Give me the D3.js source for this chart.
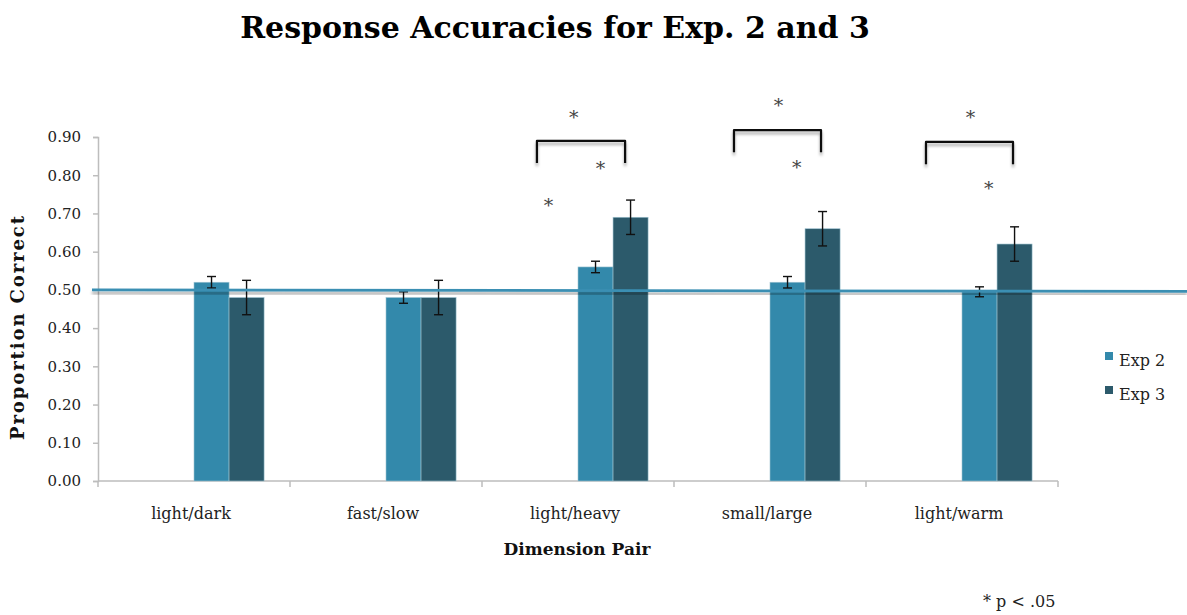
<!DOCTYPE html>
<html>
<head>
<meta charset="utf-8">
<script src="https://cdn.jsdelivr.net/npm/d3@7"></script>
<style>
  body { margin: 0; background: #fff; }
  text { font-family: "DejaVu Serif", Georgia, serif; fill: #222; }
</style>
</head>
<body>
<script>
// data
var categories = ["light/dark", "fast/slow", "light/heavy", "small/large", "light/warm"];
var seriesNames = ["Exp 2", "Exp 3"];
var exp2 = [0.52, 0.48, 0.56, 0.52, 0.495];
var exp3 = [0.48, 0.48, 0.69, 0.66, 0.62];
var exp2Err = [0.015, 0.015, 0.015, 0.015, 0.013];
var exp3Err = [0.045, 0.045, 0.045, 0.045, 0.045];
var yTicks = [0, 0.1, 0.2, 0.3, 0.4, 0.5, 0.6, 0.7, 0.8, 0.9];
var chance = 0.5;

// significance marks: category, horizontal position inside the band (0..1), value
var brackets = [
    {cat: "light/heavy", from: 0.207, to: 0.836, top: 0.89},
    {cat: "small/large", from: 0.243, to: 0.864, top: 0.918},
    {cat: "light/warm", from: 0.243, to: 0.864, top: 0.887}
];
var stars = [
    {cat: "light/heavy", pos: 0.47, v: 0.963},
    {cat: "light/heavy", pos: 0.66, v: 0.829},
    {cat: "light/heavy", pos: 0.29, v: 0.733},
    {cat: "small/large", pos: 0.56, v: 0.994},
    {cat: "small/large", pos: 0.69, v: 0.832},
    {cat: "light/warm", pos: 0.56, v: 0.963},
    {cat: "light/warm", pos: 0.69, v: 0.777}
];

var colors = {"Exp 2": "#3389ab", "Exp 3": "#2c5a6b"};

var W = 1187, H = 615;
var svg = d3.select("body").append("svg")
    .attr("width", W)
    .attr("height", H);

var defs = svg.append("defs");
var sh = defs.append("filter").attr("id", "shadow")
    .attr("x", "-5%").attr("y", "-200%").attr("width", "110%").attr("height", "500%");
sh.append("feDropShadow")
    .attr("dx", 0).attr("dy", 3).attr("stdDeviation", 1.6)
    .attr("flood-color", "#000").attr("flood-opacity", 0.35);

// plot area (note: "top" is taken by window.top, so use plot* names)
var plotLeft = 98, plotRight = 1058, plotTop = 137, plotBottom = 481;

var y = d3.scaleLinear().domain([0, 0.9]).range([plotBottom, plotTop]);
var x0 = d3.scaleBand().domain(categories).range([plotLeft, plotRight])
    .paddingInner(0.27).paddingOuter(0.135);
// excel left two empty slots in each group, the bars sit in the right half
var x1 = d3.scaleBand().domain(seriesNames)
    .range([x0.bandwidth() / 2, x0.bandwidth()]);

// title
svg.append("text")
    .attr("x", 555).attr("y", 38)
    .attr("text-anchor", "middle")
    .style("font-size", "30px")
    .style("font-weight", "bold")
    .style("fill", "#000")
    .text("Response Accuracies for Exp. 2 and 3");

// y axis
var yAxis = svg.append("g")
    .attr("transform", "translate(" + plotLeft + ",0)")
    .call(d3.axisLeft(y).tickValues(yTicks).tickFormat(d3.format(".2f"))
        .tickSize(5).tickPadding(12));
yAxis.select(".domain").attr("stroke", "#bdbdbd").attr("stroke-width", 1.5);
yAxis.selectAll(".tick line").attr("stroke", "#bdbdbd").attr("stroke-width", 1.5);
yAxis.selectAll(".tick text")
    .style("font-size", "15px")
    .style("font-family", "'DejaVu Serif', Georgia, serif")
    .attr("fill", "#333");

// x axis
var tickPos = [plotLeft].concat(categories.map(function(c){
    return x0(c) - x0.step() * x0.paddingInner() / 2 + x0.step();
}));
var xAxis = svg.append("g");
xAxis.append("line")
    .attr("x1", plotLeft).attr("x2", plotRight)
    .attr("y1", plotBottom).attr("y2", plotBottom)
    .attr("stroke", "#bdbdbd").attr("stroke-width", 1.5);
xAxis.selectAll(".xt")
    .data(tickPos)
    .enter()
    .append("line")
    .attr("x1", function(d){ return d; })
    .attr("x2", function(d){ return d; })
    .attr("y1", plotBottom).attr("y2", plotBottom + 6)
    .attr("stroke", "#bdbdbd").attr("stroke-width", 1.5);
xAxis.selectAll(".xl")
    .data(categories)
    .enter()
    .append("text")
    .attr("x", function(d){ return x0(d) + x0.bandwidth() / 2 - 3; })
    .attr("y", plotBottom + 38)
    .attr("text-anchor", "middle")
    .style("font-size", "16px")
    .text(function(d){ return d; });

// bars
var rows = categories.map(function(c, i){
    return [
        {cat: c, s: "Exp 2", v: exp2[i], e: exp2Err[i]},
        {cat: c, s: "Exp 3", v: exp3[i], e: exp3Err[i]}
    ];
});
var groups = svg.selectAll(".grp")
    .data(rows)
    .enter()
    .append("g")
    .attr("transform", function(d){ return "translate(" + x0(d[0].cat) + ",0)"; });

groups.selectAll("rect")
    .data(function(d){ return d; })
    .enter()
    .append("rect")
    .attr("x", function(d){ return x1(d.s); })
    .attr("y", function(d){ return y(d.v); })
    .attr("width", x1.bandwidth())
    .attr("height", function(d){ return plotBottom - y(d.v); })
    .attr("fill", function(d){ return colors[d.s]; })
    .attr("stroke", "#9fc3d1")
    .attr("stroke-width", 0.6);

// reference line at chance
svg.append("line")
    .attr("x1", plotLeft - 6).attr("x2", W)
    .attr("y1", y(chance)).attr("y2", y(chance) + 1.5)
    .attr("stroke", "#3a8fb3")
    .attr("stroke-width", 2.8)
    .attr("filter", "url(#shadow)");

// error bars on top of the line
var eb = groups.selectAll(".err")
    .data(function(d){ return d; })
    .enter()
    .append("g")
    .attr("stroke", "#111")
    .attr("stroke-width", 1.4);
eb.append("line")
    .attr("x1", function(d){ return x1(d.s) + x1.bandwidth() / 2; })
    .attr("x2", function(d){ return x1(d.s) + x1.bandwidth() / 2; })
    .attr("y1", function(d){ return y(d.v + d.e); })
    .attr("y2", function(d){ return y(d.v - d.e); });
eb.selectAll(".cap")
    .data(function(d){ return [d.v + d.e, d.v - d.e].map(function(v){ return {s: d.s, v: v}; }); })
    .enter()
    .append("line")
    .attr("x1", function(d){ return x1(d.s) + x1.bandwidth() / 2 - 4.5; })
    .attr("x2", function(d){ return x1(d.s) + x1.bandwidth() / 2 + 4.5; })
    .attr("y1", function(d){ return y(d.v); })
    .attr("y2", function(d){ return y(d.v); });

// significance brackets
var bh = 0.058;
svg.selectAll(".br")
    .data(brackets)
    .enter()
    .append("path")
    .attr("d", function(d){
        var a = x0(d.cat) + d.from * x0.bandwidth();
        var b = x0(d.cat) + d.to * x0.bandwidth();
        return "M" + a + "," + y(d.top - bh) + "V" + y(d.top) + "H" + b + "V" + y(d.top - bh);
    })
    .attr("fill", "none")
    .attr("stroke", "#111")
    .attr("stroke-width", 2.2)
    .attr("stroke-linejoin", "round")
    .attr("filter", "url(#shadow)");

svg.selectAll(".star")
    .data(stars)
    .enter()
    .append("text")
    .attr("x", function(d){ return x0(d.cat) + d.pos * x0.bandwidth(); })
    .attr("y", function(d){ return y(d.v) + 11; })
    .attr("text-anchor", "middle")
    .style("font-size", "19px")
    .style("fill", "#444")
    .text("*");

// axis titles
svg.append("text")
    .attr("transform", "translate(24," + 328 + ") rotate(-90)")
    .attr("text-anchor", "middle")
    .attr("textLength", 224)
    .attr("lengthAdjust", "spacing")
    .style("font-size", "18px")
    .style("font-weight", "bold")
    .style("fill", "#111")
    .text("Proportion Correct");

svg.append("text")
    .attr("x", 577).attr("y", 555)
    .attr("text-anchor", "middle")
    .style("font-size", "17px")
    .style("font-weight", "bold")
    .style("fill", "#111")
    .text("Dimension Pair");

// legend
var lg = svg.selectAll(".lg")
    .data(seriesNames)
    .enter()
    .append("g")
    .attr("transform", function(d, i){ return "translate(1105," + (352 + i * 34) + ")"; });
lg.append("rect")
    .attr("width", 8).attr("height", 8)
    .attr("fill", function(d){ return colors[d]; });
lg.append("text")
    .attr("x", 14).attr("y", 14)
    .style("font-size", "16px")
    .text(function(d){ return d; });

// footnote
svg.append("text")
    .attr("x", 983).attr("y", 607)
    .style("font-size", "16px")
    .text("* p < .05");
</script>
</body>
</html>
